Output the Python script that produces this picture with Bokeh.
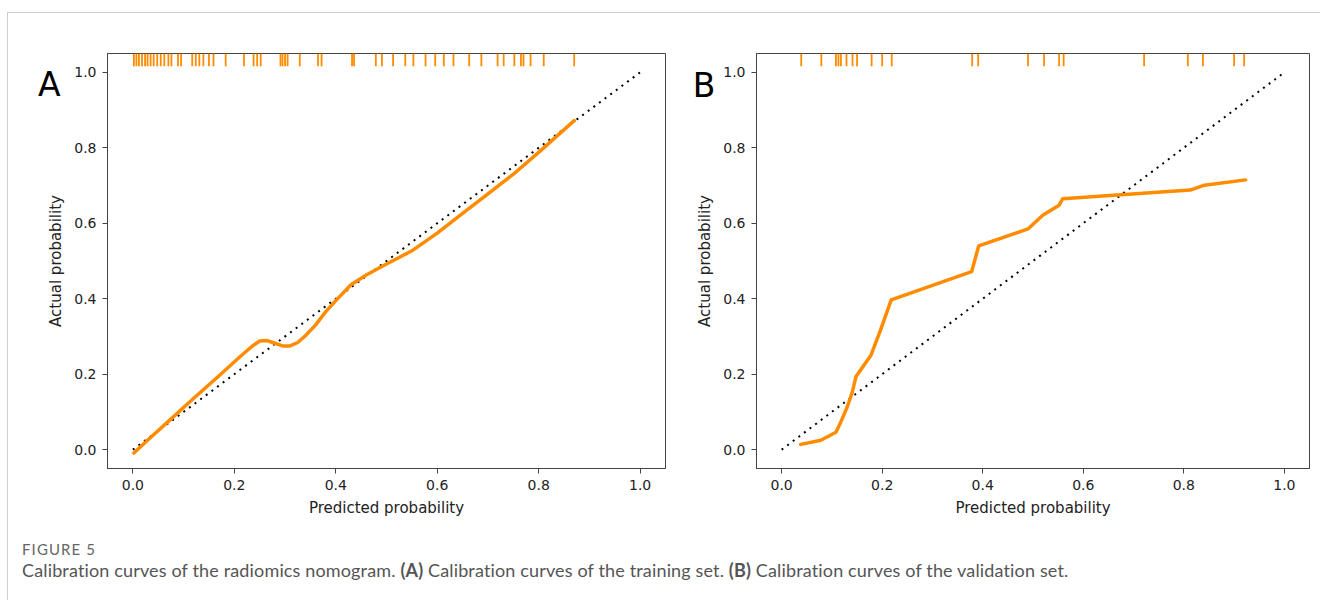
from bokeh.plotting import figure
from bokeh.models import Label, FixedTicker, NumeralTickFormatter, Div, Range1d
from bokeh.layouts import row, column
from bokeh.embed import file_html
from bokeh.resources import INLINE

# ---------------- data ----------------
tick_values = [0.0, 0.2, 0.4, 0.6, 0.8, 1.0]
diag_x = [0.0, 1.0]
diag_y = [0.0, 1.0]

# Panel A: training set calibration curve
A_pred = [0.002, 0.03, 0.07, 0.12, 0.17, 0.21, 0.235, 0.25, 0.265, 0.28, 0.295,
          0.31, 0.325, 0.34, 0.36, 0.38, 0.40, 0.43, 0.46, 0.50, 0.55, 0.60,
          0.65, 0.70, 0.75, 0.80, 0.87]
A_actual = [-0.009, 0.026, 0.075, 0.136, 0.196, 0.245, 0.274, 0.288, 0.289, 0.282,
            0.275, 0.275, 0.284, 0.302, 0.330, 0.365, 0.395, 0.437, 0.463, 0.492,
            0.527, 0.574, 0.626, 0.678, 0.730, 0.788, 0.872]
A_rug = [0.002, 0.007, 0.012, 0.018, 0.024, 0.029, 0.035, 0.041, 0.048, 0.055,
         0.062, 0.070, 0.076, 0.089, 0.095, 0.117, 0.124, 0.131, 0.139, 0.150,
         0.159, 0.183, 0.219, 0.238, 0.245, 0.252, 0.291, 0.295, 0.300, 0.305,
         0.329, 0.365, 0.372, 0.432, 0.436, 0.479, 0.491, 0.513, 0.537, 0.553,
         0.577, 0.596, 0.613, 0.632, 0.663, 0.687, 0.719, 0.731, 0.752, 0.765,
         0.770, 0.784, 0.810, 0.870]

# Panel B: validation set calibration curve
B_pred = [0.038, 0.078, 0.108, 0.117, 0.131, 0.140, 0.148, 0.178, 0.197, 0.218,
          0.378, 0.392, 0.490, 0.520, 0.552, 0.559, 0.813, 0.841, 0.923]
B_actual = [0.014, 0.025, 0.046, 0.071, 0.115, 0.150, 0.194, 0.251, 0.318, 0.397,
            0.472, 0.540, 0.585, 0.622, 0.648, 0.665, 0.688, 0.701, 0.715]
B_rug = [0.039, 0.079, 0.108, 0.113, 0.118, 0.129, 0.141, 0.150, 0.179, 0.200,
         0.219, 0.379, 0.391, 0.490, 0.522, 0.552, 0.561, 0.721, 0.808, 0.838,
         0.900, 0.920]

x_label = "Predicted probability"
y_label = "Actual probability"
caption_head = "FIGURE 5"
caption_body = ("Calibration curves of the radiomics nomogram. <b>(A)</b> Calibration curves "
                "of the training set. <b>(B)</b> Calibration curves of the validation set.")

ORANGE = "#FF8C00"
FONT = "DejaVu Sans"


def make_panel(letter, pred, actual, rug, width, height, bl, br, bt, bb, lx, ly):
    p = figure(width=width, height=height,
               x_range=Range1d(-0.05, 1.05), y_range=Range1d(-0.05, 1.05),
               output_backend="svg", toolbar_location=None,
               min_border_left=bl, min_border_right=br,
               min_border_top=bt, min_border_bottom=bb)
    p.background_fill_color = "white"
    p.border_fill_color = "white"
    p.outline_line_color = "#444444"
    p.outline_line_width = 1
    p.grid.visible = False

    for ax in (p.xaxis[0], p.yaxis[0]):
        ax.ticker = FixedTicker(ticks=tick_values)
        ax.formatter = NumeralTickFormatter(format="0.0")
        ax.axis_line_color = "#444444"
        ax.major_tick_line_color = "#444444"
        ax.major_tick_out = 5
        ax.major_tick_in = 0
        ax.minor_tick_line_color = None
        ax.major_label_text_font = FONT
        ax.major_label_text_font_size = "14px"
        ax.major_label_text_color = "#222222"
        ax.axis_label_text_font = FONT
        ax.axis_label_text_font_size = "15px"
        ax.axis_label_text_font_style = "normal"
        ax.axis_label_text_color = "#222222"
        ax.major_label_standoff = 6
        ax.axis_label_standoff = 6
    p.xaxis.axis_label = x_label
    p.yaxis.axis_label = y_label

    # rug marks along the top
    p.segment(x0=rug, x1=rug, y0=[1.016] * len(rug), y1=[1.05] * len(rug),
              line_color=ORANGE, line_width=1.8)
    # ideal diagonal
    p.line(diag_x, diag_y, line_color="black", line_width=2, line_dash="2 5")
    # calibration curve
    p.line(pred, actual, line_color=ORANGE, line_width=3.5, line_join="round",
           line_cap="round")

    # panel letter (placed in a side panel so it is not clipped to the frame)
    p.add_layout(Label(x=lx, y=ly, text=letter, text_font=FONT, text_font_size="33px",
                       text_color="black", text_baseline="alphabetic", text_align="left"),
                 "above")
    return p


pA = make_panel("A", A_pred, A_actual, A_rug, 682, 520, 99, 25, 40, 65, -0.187, 0.967)
pB = make_panel("B", B_pred, B_actual, B_rug, 630, 520, 66, 11, 40, 63, -0.177, 0.964)

caption = Div(
    text=('<div style="font-family:Lato;color:#666;font-size:15px;letter-spacing:1.1px;line-height:18px;">'
          + caption_head + '</div>'
          '<div style="font-family:Lato;color:#555;font-size:18px;letter-spacing:0.15px;line-height:22px;margin-top:1px;">'
          + caption_body + '</div>'),
    width=1300, height=65,
    styles={"padding-left": "9px", "padding-top": "2px", "box-sizing": "border-box"})

layout = column(row(pA, pB), caption,
                styles={"border-top": "1px solid #cfcfcf", "border-left": "1px solid #cfcfcf",
                        "margin-left": "7px", "margin-top": "12px"})

open("out.html", "w").write(file_html(layout, INLINE))
